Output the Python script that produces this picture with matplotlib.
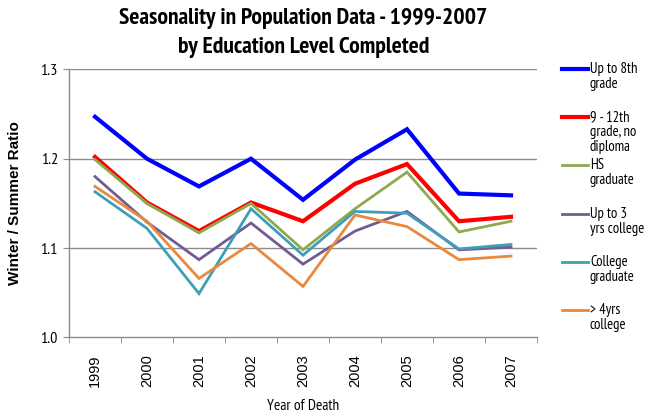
import matplotlib
matplotlib.use('Agg')
import matplotlib.pyplot as plt
from matplotlib.lines import Line2D
import numpy as np

years = ['1999', '2000', '2001', '2002', '2003', '2004', '2005', '2006', '2007']

up_to_8th     = [1.247, 1.200, 1.169, 1.200, 1.154, 1.199, 1.233, 1.161, 1.159]
grade_9_12    = [1.202, 1.151, 1.119, 1.151, 1.130, 1.172, 1.194, 1.130, 1.135]
hs_graduate   = [1.199, 1.150, 1.117, 1.150, 1.098, 1.144, 1.185, 1.118, 1.130]
up_to_3_yrs   = [1.180, 1.129, 1.087, 1.128, 1.082, 1.119, 1.141, 1.098, 1.101]
college_grad  = [1.163, 1.122, 1.049, 1.144, 1.092, 1.141, 1.139, 1.099, 1.104]
over_4_yrs    = [1.169, 1.130, 1.066, 1.105, 1.057, 1.137, 1.124, 1.087, 1.091]

series = [up_to_8th, grade_9_12, hs_graduate, up_to_3_yrs, college_grad, over_4_yrs]
labels = ['Up to 8th\ngrade', '9 - 12th\ngrade, no\ndiploma', 'HS\ngraduate',
          'Up to 3\nyrs college', 'College\ngraduate', '> 4yrs\ncollege']
colors = ['#0000FF', '#FF0000', '#8DAA4F', '#735B91', '#3F9FB8', '#E8893F']
widths = [3.0, 3.0, 2.0, 2.0, 2.0, 2.0]

narrow = ['PT Sans Narrow', 'Roboto Condensed', 'Liberation Sans']

fig = plt.figure(figsize=(6.46, 4.16), dpi=100)
ax = fig.add_axes([0.1068, 0.189, 0.7245, 0.6442])

x = np.arange(len(years))
for vals, col, lw in zip(series, colors, widths):
    ax.plot(x, vals, color=col, lw=lw, solid_joinstyle='miter', zorder=3)

ax.set_xlim(-0.5, len(years) - 0.5)
ax.set_ylim(1.0, 1.3)

# gridlines
for yv in [1.1, 1.2, 1.3]:
    ax.axhline(yv, color='#8c8c8c', lw=1.0, zorder=1)

for side in ['top', 'right']:
    ax.spines[side].set_visible(False)
for side in ['left', 'bottom']:
    ax.spines[side].set_color('#8c8c8c')
    ax.spines[side].set_linewidth(1.0)

ax.set_yticks([1.0, 1.1, 1.2, 1.3])
ax.set_yticklabels(['1.0', '1.1', '1.2', '1.3'], family=narrow, fontsize=11.5)
ax.tick_params(axis='y', length=4, color='#8c8c8c', pad=4)

# tick marks on category boundaries, labels at centres
ax.set_xticks(np.arange(-0.5, len(years), 1.0), minor=True)
ax.set_xticks(x)
ax.set_xticklabels(years, rotation=90, family='Liberation Sans', fontsize=10.5)
ax.tick_params(axis='x', which='major', length=0, pad=12)
ax.tick_params(axis='x', which='minor', length=4, color='#8c8c8c')

ax.set_ylabel('Winter / Summer Ratio', family='Liberation Sans', fontweight='bold',
              fontsize=11, labelpad=13)
ax.set_xlabel('Year of Death', family=narrow, fontsize=11, labelpad=9)

fig.text(0.47, 0.955, 'Seasonality in Population Data - 1999-2007', ha='center', va='center',
         family=narrow, fontweight='bold', fontsize=17)
fig.text(0.47, 0.885, 'by Education Level Completed', ha='center', va='center',
         family=narrow, fontweight='bold', fontsize=17)

# legend on the right
W, H = 646.0, 416.0
for i, (lab, col, lw) in enumerate(zip(labels, colors, widths)):
    yp = 69 + i * 48.2
    fig.add_artist(Line2D([562 / W, 588 / W], [1 - yp / H, 1 - yp / H], color=col,
                          lw=lw, transform=fig.transFigure))
    fig.text(590 / W, 1 - (yp - 7) / H, lab, ha='left', va='top', family=narrow,
             fontsize=10.5, linespacing=1.1)

fig.savefig('out.png', dpi=100)
